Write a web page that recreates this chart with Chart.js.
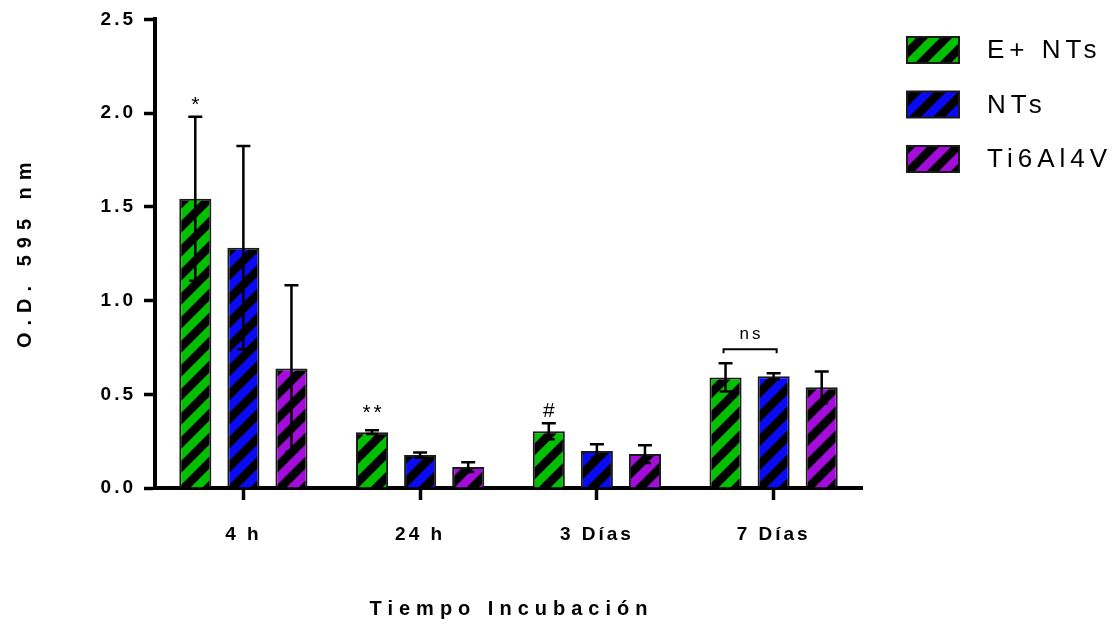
<!DOCTYPE html>
<html>
<head>
<meta charset="utf-8">
<script src="https://cdn.jsdelivr.net/npm/chart.js@4.4.1/dist/chart.umd.min.js"></script>
<style>
  html, body { margin: 0; padding: 0; background: #fff; }
  #wrap { width: 1117px; height: 624px; }
</style>
</head>
<body>
<div id="wrap"><canvas id="grafico" width="1117" height="624"></canvas></div>
<script>
// data
const categorias = ["4 h", "24 h", "3 Días", "7 Días"];
const seriesNames = ["E+ NTs", "NTs", "Ti6Al4V"];
const eNTs = [1.543, 0.298, 0.303, 0.590];
const eNTsSd = [0.437, 0.010, 0.043, 0.075];
const nts = [1.282, 0.176, 0.197, 0.596];
const ntsSd = [0.542, 0.014, 0.037, 0.016];
const ti6al4v = [0.638, 0.112, 0.181, 0.537];
const ti6al4vSd = [0.444, 0.026, 0.047, 0.085];
const yTicks = [0, 0.5, 1.0, 1.5, 2.0, 2.5];
const yTitle = "O.D. 595 nm";
const xTitle = "Tiempo Incubación";
// significance marks: dataset, category, text, value where text sits
const marcas = [
  { ds: 0, idx: 0, text: "*", y: 2.04 },
  { ds: 0, idx: 1, text: "**", y: 0.40 },
  { ds: 0, idx: 2, text: "#", y: 0.41 }
];
const bracket = { from: 0, to: 1, idx: 3, text: "ns", y: 0.74, textY: 0.82 };

const colores = ["#00c000", "#0a0af5", "#a40cdc"];
const FONT = "'Liberation Sans', Arial, sans-serif";

function hatch(color) {
  const s = 24;
  const c = document.createElement("canvas");
  c.width = s; c.height = s;
  const g = c.getContext("2d");
  g.fillStyle = color;
  g.fillRect(0, 0, s, s);
  g.strokeStyle = "#000";
  g.lineWidth = 8.5;
  g.beginPath();
  // lines x + y = k*s, run past the tile edges so the tiles join cleanly
  for (let k = 0; k <= 2; k++) {
    const c0 = k * s;
    g.moveTo(c0 - 2 * s, 2 * s);
    g.lineTo(c0 + s, -s);
  }
  g.stroke();
  return g.createPattern(c, "repeat");
}

const patrones = colores.map(hatch);
const valores = [eNTs, nts, ti6al4v];
const desvios = [eNTsSd, ntsSd, ti6al4vSd];

const extras = {
  id: "extras",
  beforeDraw(chart) {
    chart.ctx.letterSpacing = "3px";
  },
  afterDatasetsDraw(chart) {
    const ctx = chart.ctx;
    const y = chart.scales.y;
    ctx.save();
    ctx.strokeStyle = "#000";
    ctx.lineWidth = 2.5;
    valores.forEach((serie, i) => {
      const meta = chart.getDatasetMeta(i);
      meta.data.forEach((bar, j) => {
        const top = y.getPixelForValue(serie[j] + desvios[i][j]);
        const bot = y.getPixelForValue(serie[j] - desvios[i][j]);
        ctx.beginPath();
        ctx.moveTo(bar.x, top); ctx.lineTo(bar.x, bot);
        ctx.moveTo(bar.x - 7, top); ctx.lineTo(bar.x + 7, top);
        ctx.moveTo(bar.x - 6, bot); ctx.lineTo(bar.x + 6, bot);
        ctx.stroke();
      });
    });
    ctx.restore();
  },
  afterDraw(chart) {
    const ctx = chart.ctx;
    const y = chart.scales.y;
    const area = chart.chartArea;
    ctx.save();
    ctx.fillStyle = "#000";
    ctx.textAlign = "center";
    ctx.textBaseline = "middle";

    // marks
    ctx.letterSpacing = "3px";
    ctx.font = "21px " + FONT;
    marcas.forEach(m => {
      const bar = chart.getDatasetMeta(m.ds).data[m.idx];
      ctx.fillText(m.text, bar.x + 1.5, y.getPixelForValue(m.y));
    });
    const b1 = chart.getDatasetMeta(bracket.from).data[bracket.idx];
    const b2 = chart.getDatasetMeta(bracket.to).data[bracket.idx];
    const by = y.getPixelForValue(bracket.y);
    ctx.strokeStyle = "#000";
    ctx.lineWidth = 2;
    ctx.beginPath();
    ctx.moveTo(b1.x - 2, by + 4); ctx.lineTo(b1.x - 2, by);
    ctx.lineTo(b2.x + 3, by); ctx.lineTo(b2.x + 3, by + 4);
    ctx.stroke();
    ctx.font = "17px " + FONT;
    ctx.fillText(bracket.text, (b1.x + b2.x) / 2 + 2, y.getPixelForValue(bracket.textY));

    // axis titles
    ctx.font = "bold 20px " + FONT;
    ctx.letterSpacing = "6px";
    ctx.fillText(xTitle, (area.left + area.right) / 2 + 3, 609);
    ctx.letterSpacing = "7px";
    ctx.translate(25, (area.top + area.bottom) / 2);
    ctx.rotate(-Math.PI / 2);
    ctx.fillText(yTitle, 2, 0);
    ctx.restore();

    // legend
    ctx.save();
    ctx.textAlign = "left";
    ctx.textBaseline = "middle";
    ctx.font = "26px " + FONT;
    ctx.letterSpacing = "5px";
    chart.data.datasets.forEach((ds, i) => {
      const cy = 50 + i * 54.5;
      ctx.fillStyle = ds.backgroundColor;
      ctx.fillRect(907, cy - 13, 52, 26);
      ctx.strokeStyle = "#1a1a1a";
      ctx.lineWidth = 2;
      ctx.strokeRect(907, cy - 13, 52, 26);
      ctx.fillStyle = "#000";
      ctx.fillText(ds.label, 987, cy + 1);
    });
    ctx.restore();
  }
};

new Chart(document.getElementById("grafico"), {
  type: "bar",
  data: {
    labels: categorias,
    datasets: valores.map((v, i) => ({
      label: seriesNames[i],
      data: v,
      backgroundColor: patrones[i],
      borderColor: "#1a1a1a",
      borderWidth: 2,
      categoryPercentage: 0.816,
      barPercentage: 0.667
    }))
  },
  options: {
    responsive: false,
    animation: false,
    devicePixelRatio: 1,
    layout: { padding: { left: 0, top: 18, right: 255, bottom: 0 } },
    plugins: {
      legend: { display: false },
      tooltip: { enabled: false }
    },
    scales: {
      x: {
        z: 1,
        grid: { display: true, drawOnChartArea: false, offset: false, tickLength: 12, tickWidth: 3.5, tickColor: "#000" },
        border: { display: true, color: "#000", width: 4 },
        ticks: { color: "#000", font: { family: FONT, size: 19, weight: "bold" }, padding: 23, maxRotation: 0 },
        afterFit(scale) { scale.height = 136; }
      },
      y: {
        min: 0,
        max: 2.5,
        afterBuildTicks(scale) { scale.ticks = yTicks.map(v => ({ value: v })); },
        grid: { display: true, drawOnChartArea: false, tickLength: 11, tickWidth: 3.5, tickColor: "#000" },
        border: { display: true, color: "#000", width: 4 },
        ticks: {
          color: "#000",
          font: { family: FONT, size: 19, weight: "bold" },
          padding: 8,
          callback: v => Number(v).toFixed(1)
        },
        afterFit(scale) { scale.width = 155; }
      }
    }
  },
  plugins: [extras]
});
</script>
</body>
</html>
